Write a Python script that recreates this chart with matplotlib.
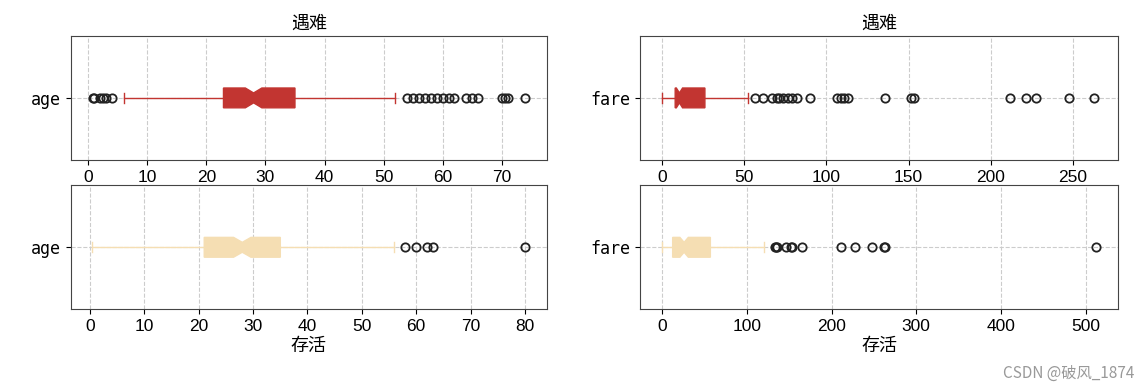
import matplotlib
matplotlib.use("Agg")
import matplotlib.pyplot as plt

plt.rcParams["font.family"] = ["Noto Sans CJK SC", "DejaVu Sans"]
plt.rcParams["axes.unicode_minus"] = False

# box statistics: (whislo, q1, med, q3, whishi, cilo, cihi)
age_died_stats = [6.0, 22.9, 28.0, 35.0, 52.0, 26.6, 29.4]
age_died_fliers = [0.75, 1, 2, 2.5, 3, 4,
                   54, 55, 56, 57, 58, 59, 60, 61, 62, 64, 65, 66, 70, 70.5, 71, 74]
fare_died_stats = [0.0, 7.9, 10.5, 26.0, 52.5, 8.6, 12.4]
fare_died_fliers = [56.5, 61.2, 66.6, 69.6, 71.0, 73.5, 76.7, 79.2, 82.2, 90.0,
                    106.4, 108.9, 110.9, 113.3, 135.6, 151.6, 153.5,
                    211.5, 221.8, 227.5, 247.5, 263.0]
age_surv_stats = [0.42, 21.0, 28.0, 35.0, 56.0, 26.4, 29.6]
age_surv_fliers = [58, 60, 62, 63, 80]
fare_surv_stats = [0.0, 12.5, 26.0, 57.0, 120.0, 21.0, 31.0]
fare_surv_fliers = [133.7, 134.5, 135.6, 146.5, 151.6, 153.5, 164.9,
                    211.3, 227.5, 247.5, 262.4, 263.0, 512.3]

age_ticks = [0, 10, 20, 30, 40, 50, 60, 70, 80]
fare_ticks_died = [0, 50, 100, 150, 200, 250]
fare_ticks_surv = [0, 100, 200, 300, 400, 500]

died_color = "#c23531"
surv_color = "#f5deb3"


def make_stats(values, fliers, label):
    lo, q1, med, q3, hi, cilo, cihi = values
    return [dict(label=label, whislo=lo, q1=q1, med=med, q3=q3, whishi=hi,
                 cilo=cilo, cihi=cihi, fliers=fliers)]


def draw_box(ax, stats, color, title=None, xlabel=None, xlim=None, ticks=None):
    ax.bxp(stats, vert=False, patch_artist=True, shownotches=True, widths=0.16,
           boxprops=dict(facecolor=color, edgecolor=color),
           medianprops=dict(color=color, linewidth=0),
           whiskerprops=dict(color=color, linewidth=1),
           capprops=dict(color=color, linewidth=1),
           capwidths=0.08,
           flierprops=dict(marker="o", markersize=6, markerfacecolor="none",
                           markeredgecolor="#222222", markeredgewidth=1.3))
    ax.grid(True, linestyle="--", color="#cccccc", linewidth=0.8)
    ax.set_axisbelow(True)
    ax.set_ylim(0.5, 1.5)
    if xlim:
        ax.set_xlim(*xlim)
    if ticks:
        ax.set_xticks(ticks)
    for lbl in ax.get_xticklabels():
        lbl.set_fontfamily("Liberation Sans")
        lbl.set_fontsize(12.5)
    for lbl in ax.get_yticklabels():
        lbl.set_fontfamily("DejaVu Sans Mono")
        lbl.set_fontsize(12)
    for sp in ax.spines.values():
        sp.set_color("#444444")
    if title:
        ax.set_title(title, fontsize=13, pad=5)
    if xlabel:
        ax.set_xlabel(xlabel, fontsize=13, labelpad=2)


fig = plt.figure(figsize=(11.46, 3.87), dpi=100)
ax1 = fig.add_axes([0.062, 0.587, 0.415, 0.320])
ax2 = fig.add_axes([0.5585, 0.587, 0.417, 0.320])
ax3 = fig.add_axes([0.062, 0.201, 0.415, 0.320])
ax4 = fig.add_axes([0.5585, 0.201, 0.417, 0.320])

draw_box(ax1, make_stats(age_died_stats, age_died_fliers, "age"), died_color,
         title="遇难", xlim=(-2.9, 77.6), ticks=age_ticks[:-1])
draw_box(ax2, make_stats(fare_died_stats, fare_died_fliers, "fare"), died_color,
         title="遇难", xlim=(-13.5, 277.5), ticks=fare_ticks_died)
draw_box(ax3, make_stats(age_surv_stats, age_surv_fliers, "age"), surv_color,
         xlabel="存活", xlim=(-3.5, 84.0), ticks=age_ticks)
draw_box(ax4, make_stats(fare_surv_stats, fare_surv_fliers, "fare"), surv_color,
         xlabel="存活", xlim=(-26.0, 538.0), ticks=fare_ticks_surv)

fig.text(0.99, 0.035, "CSDN @破风_1874", ha="right", va="center",
         fontsize=11, color="#999999")

fig.savefig("out.png", dpi=100)
